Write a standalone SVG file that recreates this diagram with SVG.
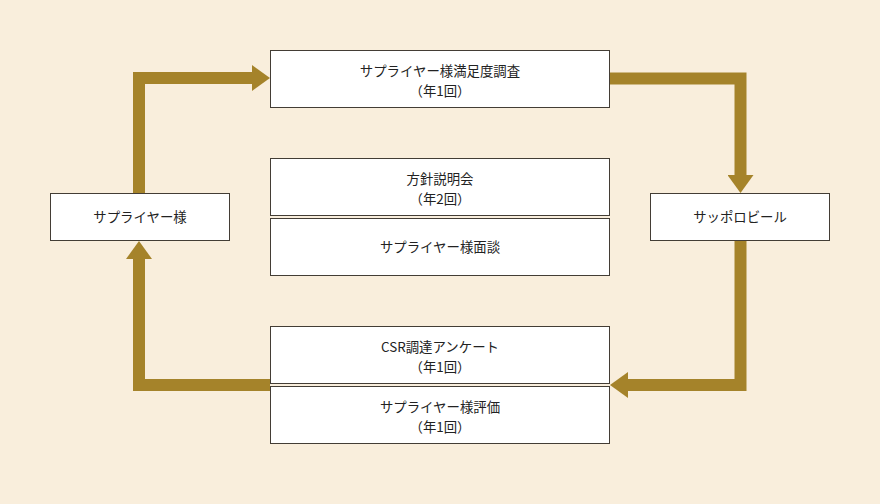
<svg xmlns="http://www.w3.org/2000/svg" width="880" height="504" viewBox="0 0 880 504">
<style>
.bg{fill:#f9eedc}
.box{fill:#ffffff;stroke:#433d35;stroke-width:1}
.t{font-family:"Noto Sans CJK JP","Noto Sans",sans-serif;font-size:13.4px;fill:#222;text-anchor:middle}
.c{fill:none;stroke:#a5832a;stroke-width:12;stroke-linejoin:miter}
</style>
<defs>
<marker id="ah" viewBox="0 0 18 26" refX="0" refY="13" markerWidth="18" markerHeight="26" markerUnits="userSpaceOnUse" orient="auto">
<path d="M0,0 L18,13 L0,26 z" fill="#a5832a"/>
</marker>
</defs>
<rect class="bg" x="0" y="0" width="880" height="504"/>
<g id="connectors">
<path class="c" d="M139,193 V78 H252" marker-end="url(#ah)"/>
<path class="c" d="M610,78.5 H740.5 V175" marker-end="url(#ah)"/>
<path class="c" d="M740.5,241 V385 H628" marker-end="url(#ah)"/>
<path class="c" d="M270,385 H139 V259" marker-end="url(#ah)"/>
</g>
<g id="survey">
<rect class="box" x="270.5" y="50.5" width="339" height="57"/>
<text class="t" x="440" y="75.5">サプライヤー様満足度調査</text>
<text class="t" x="440" y="95.5">（年1回）</text>
</g>
<g id="supplier">
<rect class="box" x="50.5" y="193.5" width="179" height="47"/>
<text class="t" x="140" y="221.5">サプライヤー様</text>
</g>
<g id="sapporo">
<rect class="box" x="650.5" y="193.5" width="179" height="47"/>
<text class="t" x="740" y="221.5">サッポロビール</text>
</g>
<g id="briefing">
<rect class="box" x="270.5" y="158.5" width="339" height="57"/>
<text class="t" x="440" y="183.5">方針説明会</text>
<text class="t" x="440" y="203.5">（年2回）</text>
</g>
<g id="interview">
<rect class="box" x="270.5" y="218.5" width="339" height="57"/>
<text class="t" x="440" y="252">サプライヤー様面談</text>
</g>
<g id="csr">
<rect class="box" x="270.5" y="326.5" width="339" height="57"/>
<text class="t" x="440" y="351.5">CSR調達アンケート</text>
<text class="t" x="440" y="371.5">（年1回）</text>
</g>
<g id="evaluation">
<rect class="box" x="270.5" y="386.5" width="339" height="57"/>
<text class="t" x="440" y="411.5">サプライヤー様評価</text>
<text class="t" x="440" y="431.5">（年1回）</text>
</g>
</svg>
